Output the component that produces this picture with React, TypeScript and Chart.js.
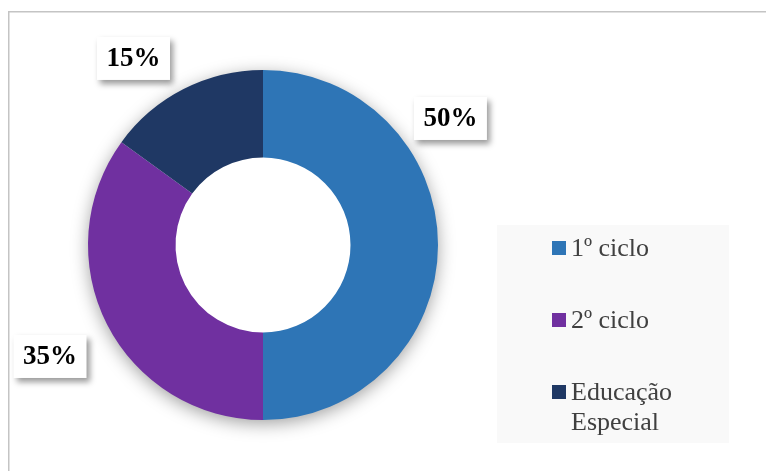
import React, { useEffect, useRef } from "react";
import { Chart, registerables } from "chart.js";

Chart.register(...registerables);

const categories = ["1º ciclo", "2º ciclo", "Educação Especial"];
const shares = [50, 35, 15];
const sliceColors = ["#2E75B6", "#7030A0", "#1F3864"];

// label box centres relative to the ring centre, in units of the outer radius
const labelOffsets = [
  [1.071, -0.723],
  [-1.217, 0.637],
  [-0.74, -1.066],
];

const W = 766;
const H = 471;
const SERIF = '"Liberation Serif", "Times New Roman", serif';

const legendBox = { x: 497, y: 225, w: 232, h: 218 };

function wrapWords(ctx: CanvasRenderingContext2D, text: string, maxW: number): string[] {
  const words = text.split(" ");
  const lines: string[] = [];
  let cur = "";
  for (const w of words) {
    const t = cur ? cur + " " + w : w;
    if (ctx.measureText(t).width > maxW && cur) {
      lines.push(cur);
      cur = w;
    } else cur = t;
  }
  if (cur) lines.push(cur);
  return lines;
}

const decor = {
  id: "decor",
  beforeDraw(chart: any) {
    const ctx = chart.ctx as CanvasRenderingContext2D;
    ctx.save();
    ctx.fillStyle = "#ffffff";
    ctx.fillRect(0, 0, W, H);
    ctx.strokeStyle = "#c4c4c4";
    ctx.lineWidth = 1.5;
    ctx.beginPath();
    ctx.moveTo(8.75, H + 5);
    ctx.lineTo(8.75, 11.75);
    ctx.lineTo(W + 5, 11.75);
    ctx.stroke();
    ctx.fillStyle = "#f9f9f9";
    ctx.fillRect(legendBox.x, legendBox.y, legendBox.w, legendBox.h);
    ctx.restore();
  },
  beforeDatasetsDraw(chart: any) {
    const ctx = chart.ctx as CanvasRenderingContext2D;
    const arc = chart.getDatasetMeta(0).data[0] as any;
    if (!arc) return;
    ctx.save();
    ctx.shadowColor = "rgba(0,0,0,0.4)";
    ctx.shadowBlur = 18;
    ctx.shadowOffsetY = 4;
    ctx.fillStyle = "#ffffff";
    ctx.beginPath();
    ctx.arc(arc.x, arc.y, arc.outerRadius - 1, 0, Math.PI * 2);
    ctx.fill();
    ctx.restore();
  },
  afterDraw(chart: any) {
    const ctx = chart.ctx as CanvasRenderingContext2D;
    const meta = chart.getDatasetMeta(0);
    const arc0 = meta.data[0] as any;
    const cx = arc0.x;
    const cy = arc0.y;
    const R = arc0.outerRadius;
    const values = chart.data.datasets[0].data as number[];
    // percentage boxes
    values.forEach((v, i) => {
      const bx = cx + labelOffsets[i][0] * R;
      const by = cy + labelOffsets[i][1] * R;
      const bw = 73;
      const bh = 43;
      ctx.save();
      ctx.shadowColor = "rgba(0,0,0,0.4)";
      ctx.shadowBlur = 6;
      ctx.shadowOffsetX = 3;
      ctx.shadowOffsetY = 4;
      ctx.fillStyle = "#ffffff";
      ctx.fillRect(bx - bw / 2, by - bh / 2, bw, bh);
      ctx.restore();
      ctx.save();
      ctx.fillStyle = "#000000";
      ctx.font = "bold 27px " + SERIF;
      ctx.textAlign = "center";
      ctx.textBaseline = "middle";
      ctx.fillText(v + "%", bx, by + 1);
      ctx.restore();
    });
    // legend
    const labels = chart.data.labels as string[];
    const colors = chart.data.datasets[0].backgroundColor as string[];
    ctx.save();
    ctx.font = "26px " + SERIF;
    ctx.textBaseline = "alphabetic";
    ctx.textAlign = "left";
    labels.forEach((lab, i) => {
      const base = legendBox.y + 31 + i * 72;
      ctx.fillStyle = colors[i];
      ctx.fillRect(legendBox.x + 55, base - 15, 14, 14);
      ctx.fillStyle = "#404040";
      const lines = wrapWords(ctx, lab, legendBox.x + legendBox.w - (legendBox.x + 74) - 4);
      lines.forEach((ln, j) => ctx.fillText(ln, legendBox.x + 74, base + j * 30));
    });
    ctx.restore();
  },
};

export default function App() {
  const ref = useRef<HTMLCanvasElement | null>(null);
  useEffect(() => {
    document.body.style.margin = "0";
    const canvas = ref.current;
    if (!canvas) return;
    const chart = new Chart(canvas, {
      type: "doughnut",
      data: {
        labels: categories,
        datasets: [
          {
            data: shares,
            backgroundColor: sliceColors,
            borderWidth: 0,
          },
        ],
      },
      options: {
        responsive: false,
        animation: false,
        devicePixelRatio: 1,
        cutout: "50%",
        layout: { padding: { left: 88, right: 328, top: 70, bottom: 51 } },
        plugins: {
          legend: { display: false },
          tooltip: { enabled: false },
        },
      },
      plugins: [decor],
    });
    return () => chart.destroy();
  }, []);
  return (
    <div style={{ position: "absolute", left: 0, top: 0, width: W, height: H }}>
      <canvas ref={ref} width={W} height={H} style={{ display: "block" }} />
    </div>
  );
}
